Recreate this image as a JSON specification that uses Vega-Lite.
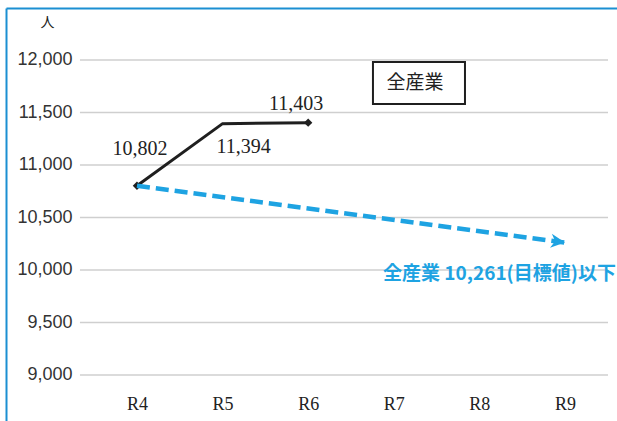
{
  "$schema": "https://vega.github.io/schema/vega-lite/v6.json",
  "width": 611,
  "height": 413,
  "autosize": {"type": "none"},
  "padding": {"left": 6, "top": 8, "right": 0, "bottom": 0},
  "background": "white",
  "config": {"view": {"stroke": null}},
  "resolve": {"axis": {"x": "independent", "y": "independent"}},
  "datasets": {
    "actual": [
      {"年度": "R4", "i": 0, "人数": 10802},
      {"年度": "R5", "i": 1, "人数": 11394},
      {"年度": "R6", "i": 2, "人数": 11403}
    ],
    "target": [
      {"年度": "R4", "i": 0, "人数": 10802},
      {"年度": "R9", "i": 5, "人数": 10261}
    ],
    "grid": [
      {"人数": 9000}, {"人数": 9500}, {"人数": 10000}, {"人数": 10500},
      {"人数": 11000}, {"人数": 11500}, {"人数": 12000}
    ],
    "note": [{"label": "全産業"}]
  },
  "layer": [
    {
      "data": {"name": "grid"},
      "mark": {"type": "rule", "color": "#cfcfcf", "strokeWidth": 1.5},
      "encoding": {
        "x": {
          "datum": -0.666,
          "type": "quantitative",
          "scale": {"domain": [-1.53, 5.608], "nice": false, "zero": false},
          "axis": {
            "orient": "bottom",
            "values": [0, 1, 2, 3, 4, 5],
            "labelExpr": "['R4','R5','R6','R7','R8','R9'][datum.value]",
            "title": null,
            "grid": false,
            "domain": false,
            "ticks": false,
            "offset": -17,
            "labelPadding": 0,
            "labelBaseline": "middle",
            "labelFont": "Liberation Serif",
            "labelFontSize": 18,
            "labelColor": "#222222"
          }
        },
        "x2": {"datum": 5.503},
        "y": {
          "field": "人数",
          "type": "quantitative",
          "scale": {"domain": [8561.9, 12495.2], "nice": false, "zero": false},
          "axis": {
            "orient": "left",
            "values": [9000, 9500, 10000, 10500, 11000, 11500, 12000],
            "labelExpr": "format(datum.value, ',')",
            "grid": false,
            "domain": false,
            "ticks": false,
            "offset": -68,
            "labelPadding": 2,
            "labelFont": "Liberation Sans",
            "labelFontSize": 18,
            "labelColor": "#333333",
            "title": "人",
            "titleAngle": 0,
            "titleX": -27,
            "titleY": 14,
            "titleAlign": "center",
            "titleBaseline": "middle",
            "titleFont": "Noto Sans CJK JP",
            "titleFontSize": 14,
            "titleFontWeight": "normal",
            "titleColor": "#222222"
          }
        }
      }
    },
    {
      "data": {"name": "actual"},
      "mark": {"type": "line", "color": "#1f1f1f", "strokeWidth": 3},
      "encoding": {
        "x": {
          "field": "i",
          "type": "quantitative",
          "axis": {
            "orient": "top",
            "labels": false,
            "ticks": false,
            "grid": false,
            "title": null,
            "domain": true,
            "domainColor": "#1b8fd2",
            "domainWidth": 2
          }
        },
        "y": {
          "field": "人数",
          "type": "quantitative",
          "axis": {
            "orient": "left",
            "labels": false,
            "ticks": false,
            "grid": false,
            "title": null,
            "domain": true,
            "domainColor": "#1b8fd2",
            "domainWidth": 2
          }
        }
      }
    },
    {
      "data": {"name": "actual"},
      "transform": [{"filter": "datum['年度'] !== 'R5'"}],
      "mark": {"type": "point", "shape": "diamond", "filled": true, "color": "#1f1f1f", "size": 70, "opacity": 1},
      "encoding": {
        "x": {"field": "i", "type": "quantitative", "axis": null},
        "y": {"field": "人数", "type": "quantitative", "axis": null}
      }
    },
    {
      "data": {"name": "target"},
      "mark": {"type": "line", "color": "#1ea3e2", "strokeWidth": 4.5, "strokeDash": [13, 6]},
      "encoding": {
        "x": {"field": "i", "type": "quantitative", "axis": null},
        "y": {"field": "人数", "type": "quantitative", "axis": null}
      }
    },
    {
      "data": {"name": "target"},
      "transform": [{"filter": "datum['年度'] === 'R9'"}],
      "mark": {
        "type": "point",
        "shape": "M-2,-1 L0,0 L-2,1 L-1.4,0 Z",
        "filled": true,
        "color": "#1ea3e2",
        "size": 200,
        "angle": 7.6,
        "opacity": 1
      },
      "encoding": {
        "x": {"field": "i", "type": "quantitative", "axis": null},
        "y": {"field": "人数", "type": "quantitative", "axis": null}
      }
    },
    {
      "data": {"name": "target"},
      "transform": [{"filter": "datum['年度'] === 'R9'"}],
      "mark": {
        "type": "text",
        "align": "right",
        "baseline": "middle",
        "dx": 51,
        "dy": 31,
        "font": "Noto Sans CJK JP",
        "fontWeight": "bold",
        "fontSize": 19,
        "color": "#1ea3e2"
      },
      "encoding": {
        "x": {"field": "i", "type": "quantitative", "axis": null},
        "y": {"field": "人数", "type": "quantitative", "axis": null},
        "text": {"value": "全産業 10,261(目標値)以下"}
      }
    },
    {
      "data": {"name": "actual"},
      "transform": [{"filter": "datum['年度'] === 'R4'"}],
      "mark": {"type": "text", "baseline": "middle", "dx": 3, "dy": -37, "font": "Liberation Serif", "fontSize": 20, "color": "#222222"},
      "encoding": {
        "x": {"field": "i", "type": "quantitative", "axis": null},
        "y": {"field": "人数", "type": "quantitative", "axis": null},
        "text": {"field": "人数", "type": "quantitative", "format": ","}
      }
    },
    {
      "data": {"name": "actual"},
      "transform": [{"filter": "datum['年度'] === 'R5'"}],
      "mark": {"type": "text", "baseline": "middle", "dx": 21, "dy": 23, "font": "Liberation Serif", "fontSize": 20, "color": "#222222"},
      "encoding": {
        "x": {"field": "i", "type": "quantitative", "axis": null},
        "y": {"field": "人数", "type": "quantitative", "axis": null},
        "text": {"field": "人数", "type": "quantitative", "format": ","}
      }
    },
    {
      "data": {"name": "actual"},
      "transform": [{"filter": "datum['年度'] === 'R6'"}],
      "mark": {"type": "text", "baseline": "middle", "dx": -12, "dy": -19, "font": "Liberation Serif", "fontSize": 20, "color": "#222222"},
      "encoding": {
        "x": {"field": "i", "type": "quantitative", "axis": null},
        "y": {"field": "人数", "type": "quantitative", "axis": null},
        "text": {"field": "人数", "type": "quantitative", "format": ","}
      }
    },
    {
      "data": {"name": "note"},
      "mark": {"type": "rect", "fill": "white", "stroke": "#1f1f1f", "strokeWidth": 2},
      "encoding": {
        "x": {"datum": 2.757, "type": "quantitative", "axis": null},
        "x2": {"datum": 3.832},
        "y": {"datum": 11981, "type": "quantitative", "axis": null},
        "y2": {"datum": 11581}
      }
    },
    {
      "data": {"name": "note"},
      "mark": {"type": "text", "align": "center", "baseline": "middle", "font": "Noto Sans CJK JP", "fontSize": 19, "color": "#222222"},
      "encoding": {
        "x": {"datum": 3.248, "type": "quantitative", "axis": null},
        "y": {"datum": 11781, "type": "quantitative", "axis": null},
        "text": {"field": "label", "type": "nominal"}
      }
    }
  ]
}
